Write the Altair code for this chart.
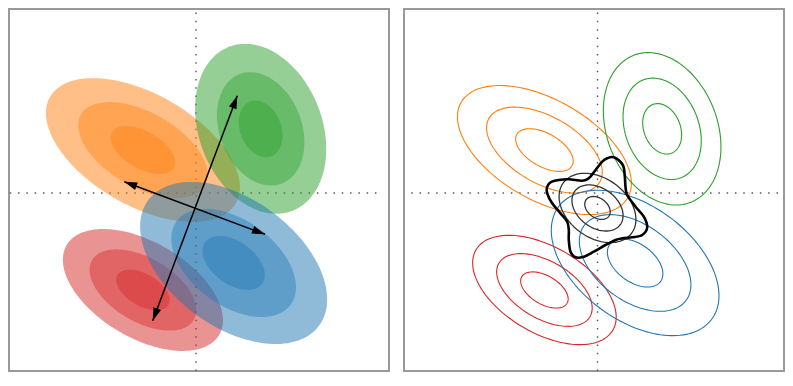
import numpy as np
import pandas as pd
import altair as alt

# ---------------- data (data units) ----------------
cluster_names = ["orange", "green", "red", "blue"]          # drawing order
cluster_colors = ["#ff7f0e", "#2ca02c", "#d62728", "#1f77b4"]
center_x = [-1.10, 1.34, -1.10, 0.78]
center_y = [0.89, 1.33, -2.01, -1.45]
sigma_x = [0.670, 0.453, 0.553, 0.646]
sigma_y = [0.497, 0.587, 0.421, 0.560]
corr = [-0.515, -0.237, -0.496, -0.449]

fill_levels = [3.0, 2.0, 1.0]          # sigma levels of filled ellipses (left)
fill_alpha = [0.5, 0.42, 0.42]         # opacity of each stacked level
contour_levels = [2.69, 1.79, 0.89]    # sigma levels of contour lines (right)

# central (overall) component drawn in black on the right
mid_cx, mid_cy, mid_sx, mid_sy, mid_r = 0.0, -0.31, 0.296, 0.267, -0.33

# double-headed arrows (left panel): start and end points
arrow_x1 = [-1.486, -0.897]
arrow_y1 = [0.234, -2.647]
arrow_x2 = [1.430, 0.856]
arrow_y2 = [-0.856, 2.017]

# flower-shaped thick contour (right panel), traced vertices
flower_x = [0.338, 0.524, 0.566, 0.580, 0.616, 0.788, 0.960, 1.030, 0.926, 0.719,
            0.524, 0.373, 0.166, -0.077, -0.284, -0.456, -0.560, -0.595, -0.595,
            -0.628, -0.767, -0.939, -1.042, -1.042, -0.974, -0.802, -0.595,
            -0.317, -0.180, -0.041, 0.097, 0.201]
flower_y = [0.740, 0.580, 0.338, 0.131, -0.041, -0.284, -0.491, -0.715, -0.870,
            -0.918, -0.939, -0.974, -1.078, -1.217, -1.320, -1.333, -1.217, -0.974,
            -0.767, -0.595, -0.421, -0.213, -0.006, 0.131, 0.222, 0.269, 0.284,
            0.255, 0.305, 0.477, 0.649, 0.719]

# zero reference lines extent
ref_extent = 3.86

# ---------------- layout ----------------
S = 48.25                       # pixels per data unit
LEFT_W, RIGHT_W, H = 380, 380, 362
left_xdom = [-187 / S, 193 / S]
right_xdom = [-193.5 / S, 186.5 / S]
ydom = [-178 / S, 184 / S]


def ellipse_df(cx, cy, sx, sy, r, k, n=144):
    t = np.linspace(0, 2 * np.pi, n, endpoint=False)
    x = cx + k * sx * np.cos(t)
    y = cy + k * sy * (r * np.cos(t) + np.sqrt(1 - r * r) * np.sin(t))
    return pd.DataFrame({"x": x, "y": y, "i": np.arange(n)})


def enc(xdom):
    return dict(
        x=alt.X("x:Q", scale=alt.Scale(domain=xdom, nice=False, zero=False), axis=None),
        y=alt.Y("y:Q", scale=alt.Scale(domain=ydom, nice=False, zero=False), axis=None),
    )


def ref_lines(xdom):
    df = pd.DataFrame({
        "x": [-ref_extent, 0.0], "y": [0.0, -ref_extent],
        "x2": [ref_extent, 0.0], "y2": [0.0, ref_extent],
    })
    return alt.Chart(df).mark_rule(color="#555555", strokeWidth=1.4, clip=True,
                                   strokeDash=[1.5, 6.8]).encode(
        x2="x2:Q", y2="y2:Q", **enc(xdom))


# ---------------- left panel ----------------
left_layers = [ref_lines(left_xdom)]
for ci in range(len(cluster_names)):
    for li, k in enumerate(fill_levels):
        df = ellipse_df(center_x[ci], center_y[ci], sigma_x[ci], sigma_y[ci], corr[ci], k)
        left_layers.append(
            alt.Chart(df).mark_line(fill=cluster_colors[ci], fillOpacity=fill_alpha[li],
                                    strokeOpacity=0, strokeWidth=0,
                                    interpolate="linear-closed")
            .encode(order="i:Q", **enc(left_xdom))
        )

arrows = pd.DataFrame({"x": arrow_x1, "y": arrow_y1, "x2": arrow_x2, "y2": arrow_y2})
left_layers.append(
    alt.Chart(arrows).mark_rule(color="black", strokeWidth=1.5)
    .encode(x2="x2:Q", y2="y2:Q", **enc(left_xdom))
)
hx, hy, ha = [], [], []
for a in range(len(arrow_x1)):
    dx = arrow_x2[a] - arrow_x1[a]
    dy = arrow_y2[a] - arrow_y1[a]
    hx += [arrow_x2[a], arrow_x1[a]]
    hy += [arrow_y2[a], arrow_y1[a]]
    ha += [np.degrees(np.arctan2(dx, dy)) % 360, np.degrees(np.arctan2(-dx, -dy)) % 360]
heads = pd.DataFrame({"x": hx, "y": hy, "ang": ha})
left_layers.append(
    alt.Chart(heads).mark_point(shape="M0,0L-0.62,2L0.62,2Z", filled=True,
                                color="black", opacity=1, size=169, strokeWidth=0)
    .encode(angle=alt.Angle("ang:Q", scale=None), **enc(left_xdom))
)
left = alt.layer(*left_layers).properties(width=LEFT_W, height=H)

# ---------------- right panel ----------------
right_layers = [ref_lines(right_xdom)]
for ci in range(len(cluster_names)):
    for k in contour_levels:
        df = ellipse_df(center_x[ci], center_y[ci], sigma_x[ci], sigma_y[ci], corr[ci], k)
        right_layers.append(
            alt.Chart(df).mark_line(color=cluster_colors[ci], strokeWidth=1.1,
                                    interpolate="linear-closed")
            .encode(order="i:Q", **enc(right_xdom))
        )
for k in contour_levels:
    df = ellipse_df(mid_cx, mid_cy, mid_sx, mid_sy, mid_r, k)
    right_layers.append(
        alt.Chart(df).mark_line(color="#333333", strokeWidth=1.3,
                                interpolate="linear-closed")
        .encode(order="i:Q", **enc(right_xdom))
    )
flower = pd.DataFrame({"x": flower_x, "y": flower_y, "i": np.arange(len(flower_x))})
right_layers.append(
    alt.Chart(flower).mark_line(color="black", strokeWidth=2.6,
                                interpolate="cardinal-closed")
    .encode(order="i:Q", **enc(right_xdom))
)
right = alt.layer(*right_layers).properties(width=RIGHT_W, height=H)

chart = (
    alt.hconcat(left, right, spacing=13)
    .properties(padding=0)
    .configure_view(stroke="#999999", strokeWidth=2)
)

chart.save("out.html", embed_options={"renderer": "svg", "actions": False})
